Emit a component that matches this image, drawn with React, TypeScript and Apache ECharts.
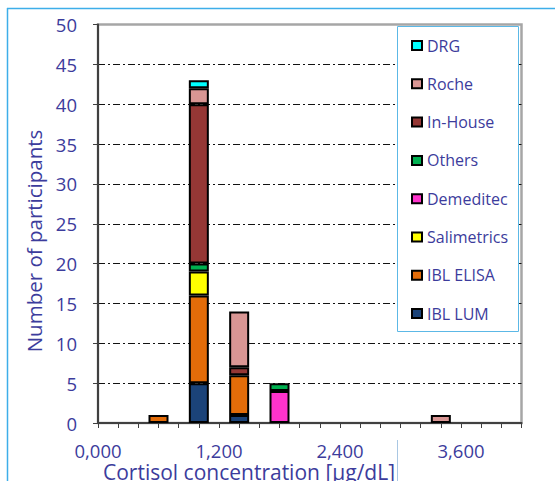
import React, { useEffect, useRef } from "react";
import * as echarts from "echarts";

// ---- data ----
// x axis positions (0.2 µg/dL steps) used as categories
const xCategories = [
  "0,000", "0,200", "0,400", "0,600", "0,800", "1,000", "1,200", "1,400", "1,600", "1,800", "2,000",
  "2,200", "2,400", "2,600", "2,800", "3,000", "3,200", "3,400", "3,600", "3,800", "4,000", "4,200",
];
const xTickLabels = ["0,000", "1,200", "2,400", "3,600"];
const binCenters = ["0,600", "1,000", "1,400", "1,800", "3,400"];

const iblLum = [null, 5, 1, null, null];
const iblElisa = [1, 11, 5, null, null];
const salimetrics = [null, 3, null, null, null];
const demeditec = [null, null, null, 4, null];
const others = [null, 1, null, 1, null];
const inHouse = [null, 20, 1, null, null];
const roche = [null, 2, 7, null, 1];
const drg = [null, 1, null, null, null];

const seriesNames = ["IBL LUM", "IBL ELISA", "Salimetrics", "Demeditec", "Others", "In-House", "Roche", "DRG"];
const seriesValues = [iblLum, iblElisa, salimetrics, demeditec, others, inHouse, roche, drg];
const seriesColors = ["#1B4379", "#E36C09", "#FFFF00", "#FF33CC", "#00B050", "#953735", "#D99694", "#00FFFF"];
const legendOrder = ["DRG", "Roche", "In-House", "Others", "Demeditec", "Salimetrics", "IBL ELISA", "IBL LUM"];

const yTitle = "Number of participants";
const xTitle = "Cortisol concentration [µg/dL]";

const TEXT = "#3C3C9C";
const FONT = "'Open Sans', 'Noto Sans', sans-serif";

export default function App() {
  const ref = useRef<HTMLDivElement>(null);
  useEffect(() => {
    if (!ref.current) return;
    const chart = echarts.init(ref.current, undefined, { renderer: "svg" });
    const series = seriesNames.map((name, i) => ({
      name,
      type: "bar",
      stack: "total",
      barWidth: 20,
      silent: true,
      itemStyle: { color: seriesColors[i], borderColor: "#000", borderWidth: 2 },
      data: binCenters.map((x, j) => [x, seriesValues[i][j] == null ? "-" : seriesValues[i][j]]),
    }));
    chart.setOption({
      animation: false,
      backgroundColor: "#fff",
      textStyle: { fontFamily: FONT },
      grid: {
        left: 98,
        right: 33.5,
        top: 24.5,
        bottom: 58,
        show: true,
        borderColor: "#A6A6A6",
        borderWidth: 2.5,
        backgroundColor: "transparent",
      },
      legend: {
        orient: "vertical",
        left: 411,
        top: 35.5,
        padding: 0,
        itemWidth: 10,
        itemHeight: 9,
        itemGap: 18.3,
        icon: "rect",
        data: legendOrder,
        selectedMode: false,
        z: 10,
        itemStyle: { borderColor: "#000", borderWidth: 2 },
        textStyle: { color: TEXT, fontSize: 16, lineHeight: 20, fontFamily: FONT },
      },
      xAxis: {
        type: "category",
        data: xCategories,
        boundaryGap: false,
        axisLine: { show: true, lineStyle: { color: "#404040", width: 2 } },
        axisTick: { show: true, interval: 0, length: 5, lineStyle: { color: "#404040", width: 1 } },
        splitLine: { show: false },
        axisLabel: {
          color: TEXT,
          fontSize: 18.5,
          lineHeight: 14,
          fontFamily: FONT,
          margin: 20,
          interval: (_i: number, v: string) => xTickLabels.includes(v),
        },
      },
      yAxis: {
        type: "value",
        min: 0,
        max: 50,
        interval: 5,
        axisLine: { show: true, lineStyle: { color: "#404040", width: 2 } },
        axisTick: { show: true, length: 5, lineStyle: { color: "#404040", width: 1 } },
        axisLabel: { color: TEXT, fontSize: 18.5, fontFamily: FONT, margin: 21 },
        splitLine: {
          show: true,
          showMinLine: false,
          showMaxLine: false,
          lineStyle: { color: "#111", width: 1, type: [7, 3, 2, 3] },
        },
      },
      graphic: [
        { type: "line", shape: { x1: 7.5, y1: 8, x2: 7.5, y2: 481 }, style: { stroke: "#3DAEE9", lineWidth: 1.5 }, silent: true },
        { type: "line", shape: { x1: 7, y1: 8.5, x2: 555, y2: 8.5 }, style: { stroke: "#3DAEE9", lineWidth: 1.5 }, silent: true },
        { type: "line", shape: { x1: 397.5, y1: 440, x2: 397.5, y2: 481 }, style: { stroke: "#A9C7E3", lineWidth: 1 }, silent: true },
        {
          type: "rect",
          shape: { x: 397.5, y: 26.5, width: 121, height: 305 },
          style: { fill: "#fff", stroke: "#5CB8E6", lineWidth: 1 },
          z: 3,
          silent: true,
        },
        {
          type: "text",
          x: 34,
          y: 241,
          rotation: Math.PI / 2,
          style: { text: yTitle, fill: TEXT, font: `20.5px ${FONT}`, align: "center", verticalAlign: "middle" },
          silent: true,
        },
        {
          type: "text",
          x: 249,
          y: 472,
          style: { text: xTitle, fill: TEXT, font: `21px ${FONT}`, lineHeight: 14, align: "center", verticalAlign: "middle" },
          silent: true,
        },
      ],
      series,
    });
    return () => chart.dispose();
  }, []);
  return (
    <div
      ref={ref}
      style={{ position: "fixed", left: 0, top: 0, width: 555, height: 481, background: "#fff" }}
    />
  );
}
